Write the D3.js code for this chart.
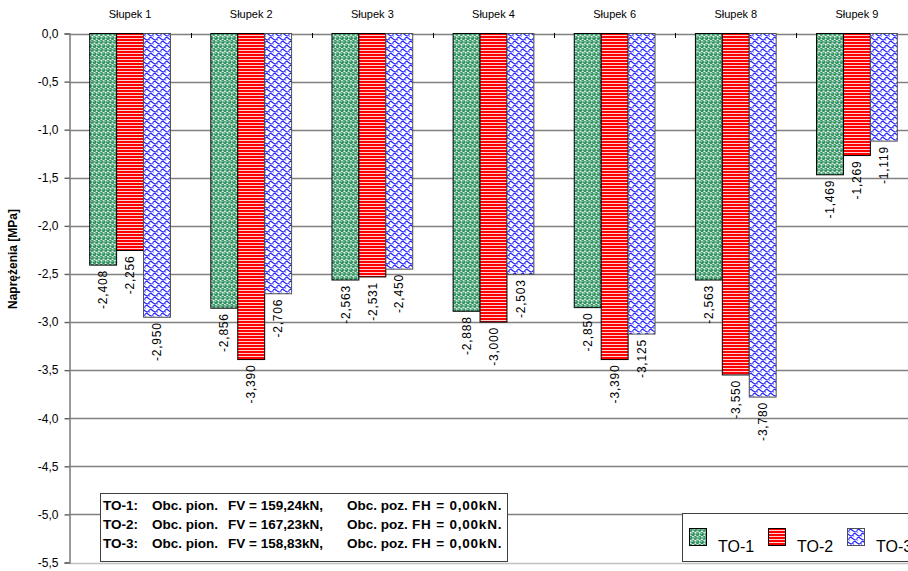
<!DOCTYPE html>
<html><head><meta charset="utf-8">
<script src="https://cdn.jsdelivr.net/npm/d3@7"></script>
<style>html,body{margin:0;padding:0;background:#fff;overflow:hidden}</style>
</head><body>
<svg id="c" width="908" height="571"></svg>
<script>
const categories = ["Słupek 1","Słupek 2","Słupek 3","Słupek 4","Słupek 6","Słupek 8","Słupek 9"];
const series = ["TO-1","TO-2","TO-3"];
const to1 = [-2.408,-2.856,-2.563,-2.888,-2.850,-2.563,-1.469];
const to2 = [-2.256,-3.390,-2.531,-3.000,-3.390,-3.550,-1.269];
const to3 = [-2.950,-2.706,-2.450,-2.503,-3.125,-3.780,-1.119];
const yTicks = [0,-0.5,-1,-1.5,-2,-2.5,-3,-3.5,-4,-4.5,-5,-5.5];
const infoLines = [
  ["TO-1:","Obc. pion.","FV = 159,24kN,","Obc. poz.","FH = 0,00kN."],
  ["TO-2:","Obc. pion.","FV = 167,23kN,","Obc. poz.","FH = 0,00kN."],
  ["TO-3:","Obc. pion.","FV = 158,83kN,","Obc. poz.","FH = 0,00kN."]
];
const values = [to1,to2,to3];
const font = "'Liberation Sans', Arial, sans-serif";

const svg = d3.select("#c");
const defs = svg.append("defs");
// TO-1 pattern: green spheres
const p1 = defs.append("pattern").attr("id","pat1").attr("patternUnits","userSpaceOnUse").attr("width",4.5).attr("height",8);
p1.append("rect").attr("width",4.5).attr("height",8).attr("fill","#ffffff");
[[2.25,2],[0,6],[4.5,6]].forEach(([cx,cy])=>{
  p1.append("circle").attr("cx",cx).attr("cy",cy).attr("r",2.1).attr("fill","#2f9160");
  p1.append("circle").attr("cx",cx-0.6).attr("cy",cy-0.6).attr("r",0.7).attr("fill","#9fd6b6");
});
// TO-2 pattern: red with white horizontal lines
const p2 = defs.append("pattern").attr("id","pat2").attr("patternUnits","userSpaceOnUse").attr("width",4).attr("height",3);
p2.append("rect").attr("width",4).attr("height",3).attr("fill","#ff0000");
p2.append("rect").attr("y",2).attr("width",4).attr("height",1).attr("fill","#ffd0d0");
// TO-3 pattern: blue shingles
const p3 = defs.append("pattern").attr("id","pat3").attr("patternUnits","userSpaceOnUse").attr("width",8).attr("height",8);
p3.append("rect").attr("width",8).attr("height",8).attr("fill","#ffffff");
p3.append("path").attr("d","M0,4 Q2,0 4,2 T8,4 M-4,8 Q-2,4 0,6 T4,8 M4,8 Q6,4 8,6 T12,8 M-4,0 Q-2,-4 0,-2 T4,0 M4,0 Q6,-4 8,-2 T12,0")
  .attr("fill","none").attr("stroke","#1f1fff").attr("stroke-width",1.1);
p3.append("path").attr("d","M0,2 L2,5 M4,6 L6,8 M4,-2 L6,1")
  .attr("fill","none").attr("stroke","#8888ff").attr("stroke-width",1);
const pats = ["url(#pat1)","url(#pat2)","url(#pat3)"];
const strokes = ["#000000","#000000","#505050"];

const y = d3.scaleLinear().domain([-5.5,0]).range([562.5,33.5]);
const x = d3.scaleBand().domain(categories).range([69.5,917.5]).paddingInner(0).paddingOuter(0);
const xs = d3.scaleBand().domain(series).range([0,x.bandwidth()]).paddingInner(0).paddingOuter(0.75);

// gridlines
svg.append("g").selectAll("line").data(yTicks).join("line")
  .attr("x1",69.5).attr("x2",920).attr("y1",d=>Math.round(y(d))+0.5).attr("y2",d=>Math.round(y(d))+0.5)
  .attr("stroke",d=>d===-5.5?"#c0c0c0":"#808080").attr("stroke-width",1.6);

// y axis
const yAxis = d3.axisLeft(y).tickValues(yTicks).tickSize(5).tickFormat(d=>d3.format(".1f")(d).replace(".",",").replace("−","-"));
const ga = svg.append("g").attr("transform","translate(69.5,0)").call(yAxis);
ga.select(".domain").attr("stroke","#808080").attr("stroke-width",1.6);
ga.selectAll(".tick line").attr("stroke","#606060").attr("stroke-width",1.4);
ga.selectAll(".tick text").attr("font-family",font).attr("font-size",12).attr("fill","#000").attr("x",-11);

// category tick marks at top
svg.append("g").selectAll("line").data(categories.slice(1)).join("line")
  .attr("x1",d=>Math.round(x(d))+0.5).attr("x2",d=>Math.round(x(d))+0.5).attr("y1",33).attr("y2",38)
  .attr("stroke","#000").attr("stroke-width",1);

// category labels
svg.append("g").selectAll("text").data(categories).join("text")
  .attr("x",d=>x(d)+x.bandwidth()/2).attr("y",18).attr("text-anchor","middle")
  .attr("font-family",font).attr("font-size",11).text(d=>d);

// bars
const data = [];
categories.forEach((c,i)=>series.forEach((s,j)=>data.push({c,s,j,v:values[j][i]})));
svg.append("g").selectAll("rect").data(data).join("rect")
  .attr("x",d=>x(d.c)+xs(d.s)).attr("width",xs.bandwidth())
  .attr("y",y(0)).attr("height",d=>y(d.v)-y(0))
  .attr("fill",d=>pats[d.j]).attr("stroke",d=>strokes[d.j]).attr("stroke-width",1);

// value labels
svg.append("g").selectAll("text").data(data).join("text")
  .attr("transform",d=>`translate(${x(d.c)+xs(d.s)+xs.bandwidth()/2},${y(d.v)+5}) rotate(-90)`)
  .attr("text-anchor","end").attr("dy","0.35em")
  .attr("font-family",font).attr("font-size",12).attr("letter-spacing",0.8)
  .text(d=>d3.format(".3f")(d.v).replace(".",",").replace("−","-"));

// y title
svg.append("text").attr("transform","translate(17,259) rotate(-90)").attr("text-anchor","middle")
  .attr("font-family",font).attr("font-size",12).attr("font-weight","bold").text("Naprężenia [MPa]");

// info box
svg.append("rect").attr("x",100.5).attr("y",493.5).attr("width",407).attr("height",68)
  .attr("fill","#fff").attr("stroke","#404040").attr("stroke-width",1);
const colX = [103,152,228,347,412];
const info = svg.append("g").attr("font-family",font).attr("font-size",13.5).attr("font-weight","bold");
infoLines.forEach((line,i)=>{
  line.forEach((t,k)=>info.append("text").attr("x",colX[k]).attr("y",510+i*19)
    .attr("letter-spacing",k===4?0.8:0).text(t));
});

// legend
svg.append("rect").attr("x",682.5).attr("y",513.5).attr("width",240).attr("height",48)
  .attr("fill","#fff").attr("stroke","#404040").attr("stroke-width",1);
const lg = svg.append("g");
series.forEach((s,j)=>{
  const lx = 689 + j*79;
  lg.append("rect").attr("x",lx+0.5).attr("y",528.5).attr("width",17).attr("height",17)
    .attr("fill",pats[j]).attr("stroke",strokes[j]);
  lg.append("text").attr("x",lx+29).attr("y",552).attr("font-family",font).attr("font-size",16).text(s);
});
</script>
</body></html>
